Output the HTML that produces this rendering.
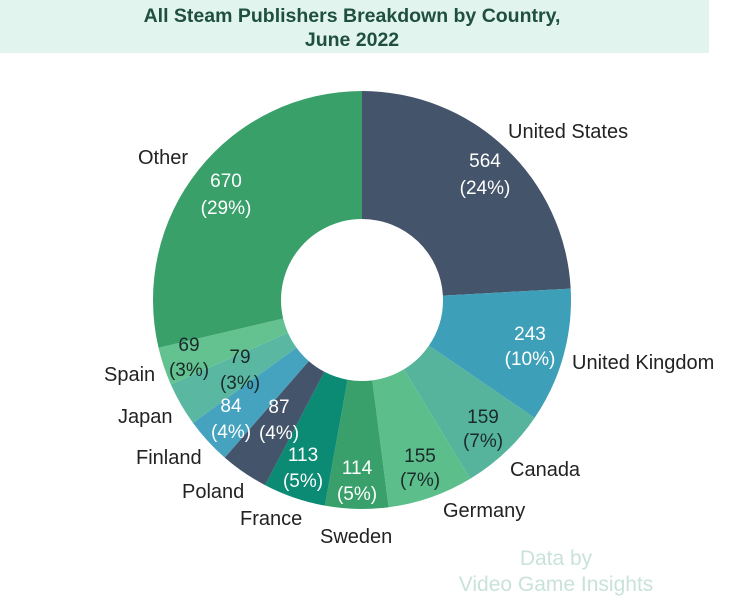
<!DOCTYPE html>
<html><head><meta charset="utf-8"><style>
body{margin:0;width:750px;height:599px;background:#fff;overflow:hidden;font-family:"Liberation Sans",sans-serif}
</style></head><body>
<svg width="750" height="599" xmlns="http://www.w3.org/2000/svg" id="s">
<rect x="0" y="0" width="709" height="53" fill="#e2f4ee"/>
<text x="352" y="22" text-anchor="middle" font-size="19.5" font-weight="bold" fill="#1e4f3f">All Steam Publishers Breakdown by Country,</text>
<text x="352" y="46" text-anchor="middle" font-size="19.5" font-weight="bold" fill="#1e4f3f">June 2022</text>
<g id="pie"></g>
<g font-size="20" fill="#222">
<text x="508" y="138">United States</text>
<text x="138" y="164">Other</text>
<text x="572" y="369">United Kingdom</text>
<text x="510" y="476">Canada</text>
<text x="443" y="517">Germany</text>
<text x="320" y="543">Sweden</text>
<text x="240" y="525">France</text>
<text x="182" y="498">Poland</text>
<text x="136" y="464">Finland</text>
<text x="118" y="423">Japan</text>
<text x="104" y="381">Spain</text>
</g>
<g font-size="19" text-anchor="middle">
<g fill="#fff"><text x="485" y="167">564</text><text x="485" y="194">(24%)</text>
<text x="226" y="187">670</text><text x="226" y="214">(29%)</text>
<text x="530" y="340">243</text><text x="530" y="365">(10%)</text>
<text x="357" y="474">114</text><text x="357" y="500">(5%)</text>
<text x="303" y="461">113</text><text x="303" y="487">(5%)</text>
<text x="279" y="413">87</text><text x="279" y="439">(4%)</text>
<text x="231" y="412">84</text><text x="231" y="438">(4%)</text></g>
<g fill="#1a2a2a"><text x="483" y="423">159</text><text x="483" y="447">(7%)</text>
<text x="420" y="462">155</text><text x="420" y="486">(7%)</text>
<text x="240" y="363">79</text><text x="240" y="389">(3%)</text>
<text x="189" y="351">69</text><text x="189" y="376">(3%)</text></g>
</g>
<text x="556" y="565" text-anchor="middle" font-size="21" fill="#c9e2da">Data by</text>
<text x="556" y="591" text-anchor="middle" font-size="21" fill="#c9e2da">Video Game Insights</text>
</svg>
<script>
var d=[[564,"#44546a"],[243,"#3e9fb8"],[159,"#56b49c"],[155,"#5cbf8b"],[114,"#3aa06b"],[113,"#0b8a74"],[87,"#44546a"],[84,"#46a3c0"],[79,"#5ab8a2"],[69,"#63c28f"],[670,"#39a06a"]];
var t=0;d.forEach(function(x){t+=x[0]});
var cx=362,cy=300,R=209,r=81,a=0,h="";
function p(ang,rad){return [cx+rad*Math.sin(ang),cy-rad*Math.cos(ang)]}
d.forEach(function(x){var a2=a+x[0]/t*2*Math.PI;var l=(a2-a)>Math.PI?1:0;
var p1=p(a,R),p2=p(a2,R),p3=p(a2,r),p4=p(a,r);
h+='<path fill="'+x[1]+'" d="M'+p1+' A'+R+','+R+' 0 '+l+' 1 '+p2+' L'+p3+' A'+r+','+r+' 0 '+l+' 0 '+p4+'Z"/>';a=a2;});
document.getElementById("pie").innerHTML=h;
</script>
</body></html>
